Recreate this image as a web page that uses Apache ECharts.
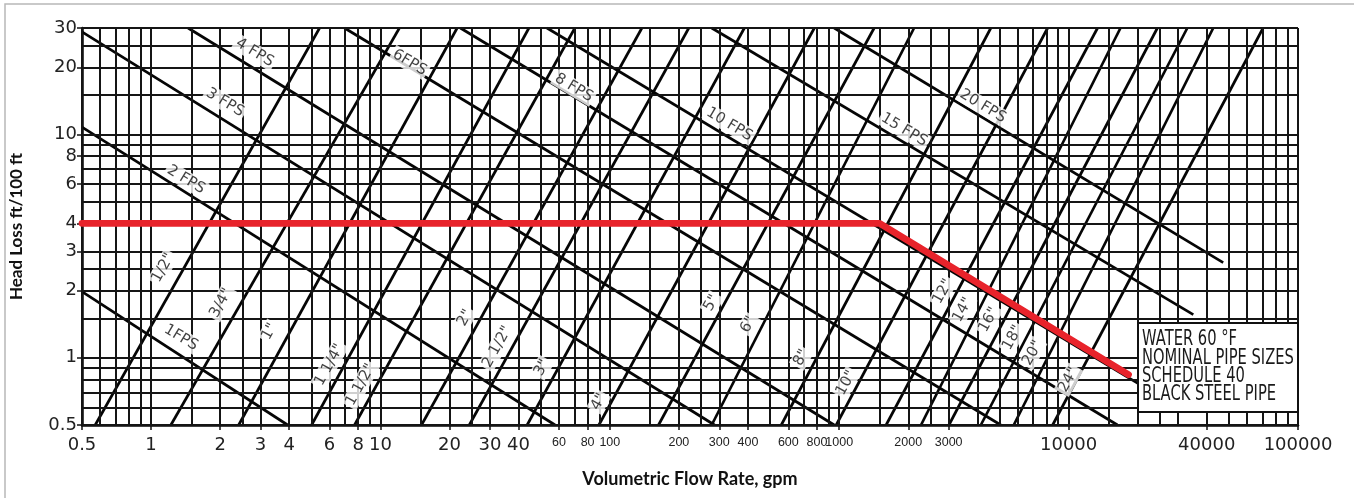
<!DOCTYPE html>
<html>
<head>
<meta charset="utf-8">
<script src="https://cdn.jsdelivr.net/npm/echarts@6/dist/echarts.min.js"></script>
<style>
html,body{margin:0;padding:0;background:#fff;}
#chart{width:1354px;height:498px;}
</style>
</head>
<body>
<div id="chart"></div>
<script>
// ---------- axis ticks / grid ----------
const xTickValues = [0.5,1,2,3,4,6,8,10,20,30,40,60,80,100,200,300,400,600,800,1000,2000,3000,10000,40000,100000];
const xTickTexts  = ['0.5','1','2','3','4','6','8','10','20','30','40','60','80','100','200','300','400','600','800','1000','2000','3000','10000','40000','100000'];
const xNarrowTicks = ['60','80','100','200','300','400','600','800','1000','2000','3000'];
const yTickValues = [0.5,1,2,3,4,6,8,10,20,30];
const yTickTexts  = ['0.5','1','2','3','4','6','8','10','20','30'];
const gridSteps = [1,1.5,2,2.5,3,4,5,6,7,8,9];
const xGridDecades = [0.1,1,10,100,1000,10000,100000];
const yGridValues = [0.5,0.6,0.7,0.8,0.9,1,1.5,2,2.5,3,4,5,6,7,8,9,10,15,20,25,30];

// ---------- velocity lines (FPS) ----------
const fpsNames  = ['1FPS','2 FPS','3 FPS','4 FPS','6FPS','8 FPS','10 FPS','15 FPS','20 FPS'];
const fpsStartQ = [0.5, 0.5, 0.5, 1.45, 6.97, 22.3, 53.2, 278, 951];
const fpsStartH = [1.98, 10.8, 28.8, 30, 30, 30, 30, 30, 30];
const fpsEndQ   = [3.94, 57.7, 286, 951, 5062, 16330, 20560, 34960, 47200];
const fpsEndH   = [0.5, 0.5, 0.5, 0.5, 0.5, 0.5, 0.757, 1.56, 2.67];
const fpsLabelQ = [1.35, 1.42, 2.10, 2.83, 13.4, 69.7, 332, 1917, 4228];
const fpsLabelH = [1.23, 6.28, 13.9, 23.3, 21.0, 16.2, 11.1, 10.5, 13.4];

// ---------- pipe size lines ----------
const pipeNames   = ['1/2"','3/4"','1"','1 1/4"','1 1/2"','2"','2 1/2"','3"','4"','5"','6"','8"','10"','12"','14"','16"','18"','20"','24"'];
const pipeBottomQ = [0.571,1.22,2.41,5.01,7.71,15.1,24.4,43.6,89.6,163,278,559,970,1601,2273,3008,4144,5767,8519];
const pipeTopQ    = [5.43,12.1,21.6,44.4,70.4,138,221,386,779,1420,2120,4581,8103,13370,16830,24380,32920,42700,70440];
const pipeBottomH = 0.5, pipeTopH = 30;
const pipeLabelQ  = [1.13,2.02,3.29,6.00,8.19,23.4,32.3,50.6,89.6,278,402,684,1073,2834,3460,4490,5708,6974,10000];
const pipeLabelH  = [2.53,1.76,1.31,0.93,0.757,1.51,1.12,0.902,0.635,1.76,1.41,1.0,0.772,1.98,1.64,1.48,1.23,1.05,0.797];

// ---------- highlighted path ----------
const redQ = [0.5, 1500, 18240];
const redH = [4, 4, 0.84];

const noteLines = ['WATER 60 °F','NOMINAL PIPE SIZES','SCHEDULE 40','BLACK STEEL PIPE'];

// ---------- build ----------
const xGridValues = [];
xGridDecades.forEach(d => gridSteps.forEach(s => {
  const v = +(d*s).toPrecision(6);
  if (v >= 0.5 && v <= 100000 && xGridValues.indexOf(v) < 0) xGridValues.push(v);
}));

function tickText(values, texts, v){
  let best = 0, bd = Infinity;
  values.forEach((t,i)=>{ const d = Math.abs(Math.log(t)-Math.log(v)); if(d<bd){bd=d;best=i;} });
  return texts[best];
}

const series = [];
series.push({
  type:'line', data:[], silent:true, clip:false, z:2,
  markLine:{
    silent:true, animation:false, symbol:['none','none'],
    label:{show:false}, emphasis:{disabled:true},
    lineStyle:{color:'#151515', width:2, type:'solid', opacity:1},
    data:[...xGridValues.map(v=>({xAxis:v})), ...yGridValues.map(v=>({yAxis:v}))]
  }
});
const blackLine = {color:'#050505', width:2.7};
fpsNames.forEach((n,i)=>{
  series.push({type:'line', name:n, silent:true, symbol:'none', z:3, clip:true,
    lineStyle:blackLine, data:[[fpsStartQ[i],fpsStartH[i]],[fpsEndQ[i],fpsEndH[i]]]});
});
pipeNames.forEach((n,i)=>{
  series.push({type:'line', name:n, silent:true, symbol:'none', z:3, clip:true,
    lineStyle:blackLine, data:[[pipeBottomQ[i],pipeBottomH],[pipeTopQ[i],pipeTopH]]});
});
const labelBase = {show:true, position:'inside', color:'#111', fontFamily:'DejaVu Sans',
  backgroundColor:'#ffffff', padding:[1,2], formatter:p=>p.name};
series.push({type:'scatter', silent:true, symbolSize:1, z:8,
  itemStyle:{color:'rgba(0,0,0,0)'},
  labelLayout:{hideOverlap:false},
  label:Object.assign({}, labelBase, {rotate:-31, fontSize:15, offset:[1,-2]}),
  data:fpsNames.map((n,i)=>({name:n, value:[fpsLabelQ[i],fpsLabelH[i]]}))});
series.push({type:'scatter', silent:true, symbolSize:1, z:8,
  itemStyle:{color:'rgba(0,0,0,0)'},
  labelLayout:{hideOverlap:false},
  label:Object.assign({}, labelBase, {rotate:61, fontSize:15}),
  data:pipeNames.map((n,i)=>({name:n, value:[pipeLabelQ[i],pipeLabelH[i]]}))});
series.push({type:'line', silent:true, symbol:'none', z:9,
  lineStyle:{color:'#e8232b', width:6.8, cap:'round', join:'round'},
  data:redQ.map((q,i)=>[q,redH[i]])});

const noteGraphic = [{
  type:'rect', z:100, shape:{x:1138, y:323, width:160, height:89},
  style:{fill:'#fff', stroke:'#111', lineWidth:2}
}];
noteLines.forEach((t,i)=>{
  noteGraphic.push({type:'text', z:101, x:1142, y:340 + i*18.3, scaleX:0.70,
    style:{text:t, x:0, y:0, fill:'#1a1a1a', font:'21px "DejaVu Sans"',
      textVerticalAlign:'middle', verticalAlign:'middle', textAlign:'left'}});
});

const chart = echarts.init(document.getElementById('chart'), null, {renderer:'canvas'});
chart.setOption({
  animation:false,
  backgroundColor:'#fff',
  grid:{left:79, right:56, top:28, bottom:73, containLabel:false},
  xAxis:{
    type:'log', logBase:10, min:0.5, max:100000,
    name:'Volumetric Flow Rate, gpm', nameLocation:'middle', nameGap:45,
    nameTextStyle:{fontFamily:'Lato', fontWeight:'bold', fontSize:18, color:'#111'},
    axisLine:{show:true, onZero:false, lineStyle:{color:'#050505', width:2.5}},
    axisTick:{show:true, customValues:xTickValues, length:5, lineStyle:{color:'#111', width:1.5}},
    splitLine:{show:false}, minorTick:{show:false}, minorSplitLine:{show:false},
    axisLabel:{
      customValues:xTickValues, margin:11, hideOverlap:false, showMinLabel:true, showMaxLabel:true,
      formatter:v=>{ const t = tickText(xTickValues,xTickTexts,v); return xNarrowTicks.indexOf(t)>=0 ? '{n|'+t+'}' : '{w|'+t+'}'; },
      rich:{
        w:{fontFamily:'DejaVu Sans', fontSize:18, color:'#222'},
        n:{fontFamily:'"Liberation Sans"', fontSize:12.5, color:'#222'}
      }
    }
  },
  yAxis:{
    type:'log', logBase:10, min:0.5, max:30,
    name:'Head Loss ft/100 ft', nameLocation:'middle', nameGap:57,
    nameTextStyle:{fontFamily:'Lato', fontWeight:'bold', fontSize:17, color:'#111'},
    axisLine:{show:true, onZero:false, lineStyle:{color:'#050505', width:2.5}},
    axisTick:{show:true, customValues:yTickValues, length:5, lineStyle:{color:'#111', width:1.5}},
    splitLine:{show:false}, minorTick:{show:false}, minorSplitLine:{show:false},
    axisLabel:{
      customValues:yTickValues, margin:5, hideOverlap:false, showMinLabel:true, showMaxLabel:true,
      formatter:v=>tickText(yTickValues,yTickTexts,v),
      fontFamily:'DejaVu Sans', fontSize:18, color:'#222'
    }
  },
  graphic:[
    {type:'rect', z:0, silent:true, shape:{x:5, y:4, width:1360, height:500},
     style:{fill:'none', stroke:'#b8b8b8', lineWidth:1.5}},
    ...noteGraphic
  ],
  series:series
});
</script>
</body>
</html>
